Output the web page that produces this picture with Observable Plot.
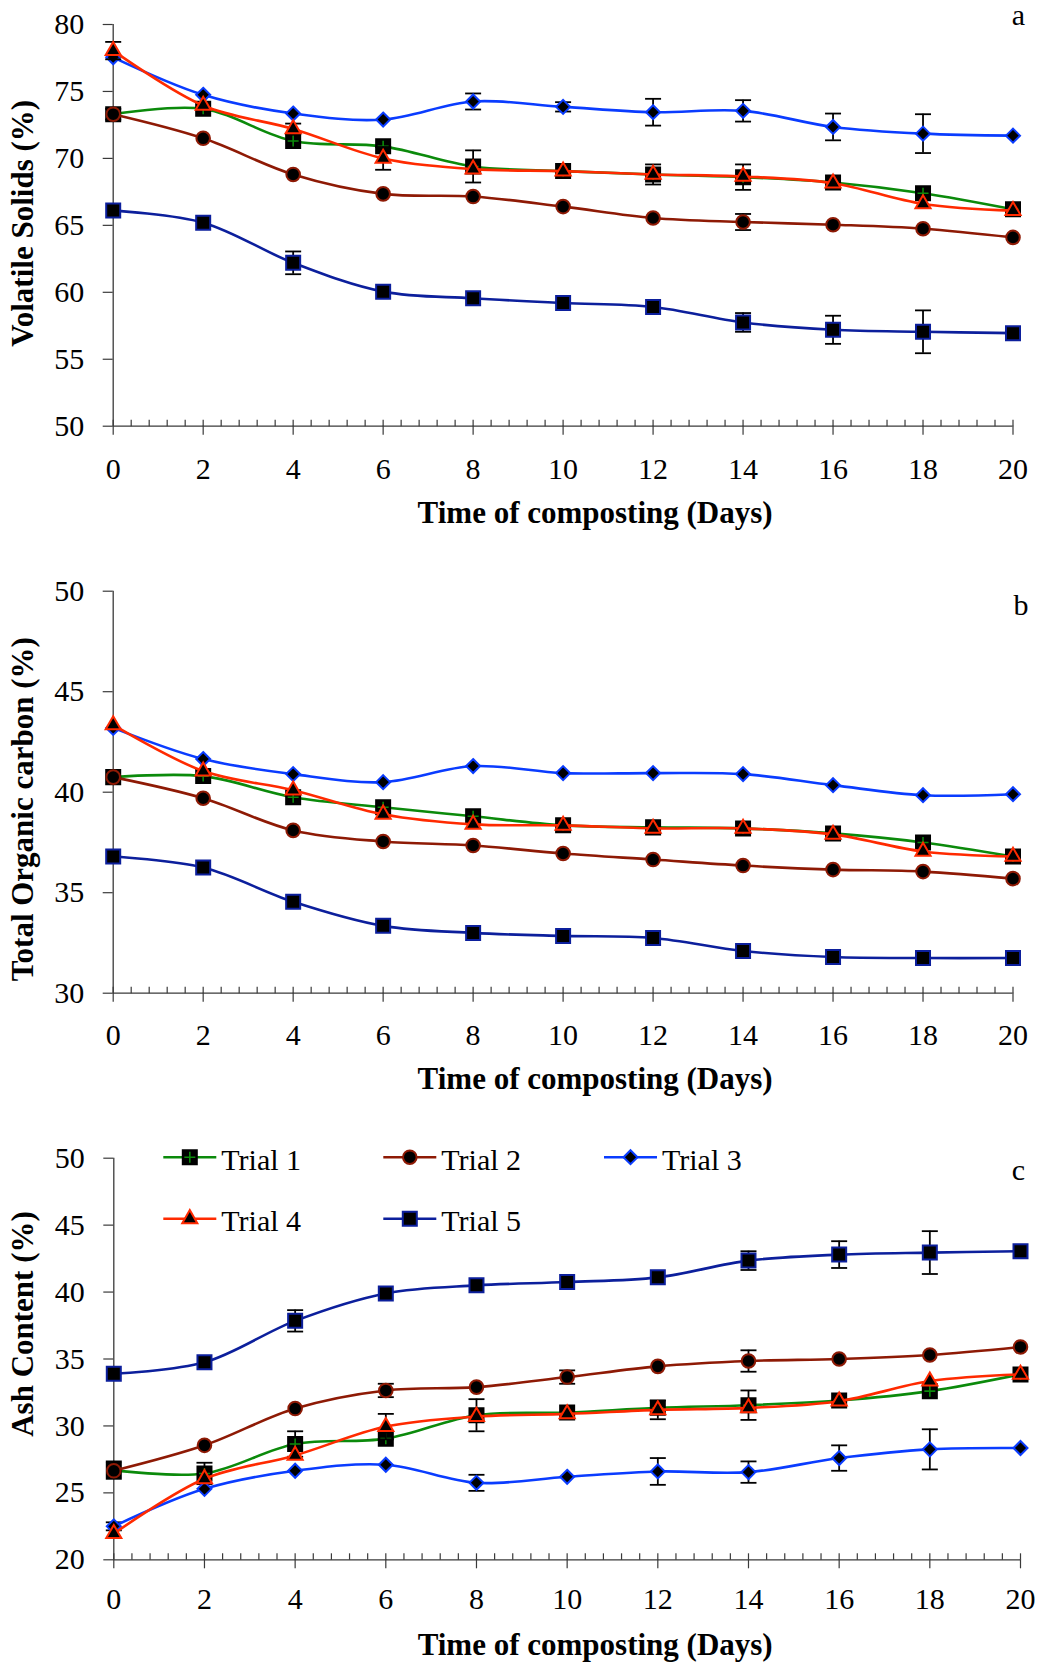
<!DOCTYPE html>
<html>
<head>
<meta charset="utf-8">
<script src="https://cdn.jsdelivr.net/npm/d3@7"></script>
<script src="https://cdn.jsdelivr.net/npm/@observablehq/plot@0.6"></script>
<style>
  body { margin: 0; background: #fff; }
  #chart { width: 1037px; }
  #chart svg { display: block; }
  #chart svg text { font-family: "Liberation Serif", "Times New Roman", serif; }
</style>
</head>
<body>
<div id="chart"></div>
<script>
// ---------- data ----------
const days = [0, 2, 4, 6, 8, 10, 12, 14, 16, 18, 20];
const trials = ["Trial 1", "Trial 2", "Trial 3", "Trial 4", "Trial 5"];
const xTicks = [0, 2, 4, 6, 8, 10, 12, 14, 16, 18, 20];
const xTitle = "Time of composting (Days)";

// (a) Volatile solids (%)
const vsTicks = [50, 55, 60, 65, 70, 75, 80];
const vsTrial1 = [73.3, 73.7, 71.3, 70.9, 69.4, 69.05, 68.8, 68.6, 68.2, 67.4, 66.2];
const vsTrial2 = [73.3, 71.5, 68.8, 67.35, 67.15, 66.4, 65.55, 65.25, 65.05, 64.75, 64.1];
const vsTrial3 = [77.55, 74.75, 73.35, 72.9, 74.25, 73.85, 73.45, 73.55, 72.35, 71.85, 71.7];
const vsTrial4 = [78.05, 73.95, 72.2, 70.0, 69.2, 69.05, 68.8, 68.65, 68.15, 66.6, 66.1];
const vsTrial5 = [66.1, 65.2, 62.2, 60.05, 59.55, 59.2, 58.9, 57.75, 57.2, 57.05, 56.95];
const vsErr1 = [0.4, null, null, null, 1.2, null, 0.75, 0.95, null, null, null];
const vsErr2 = [null, null, null, null, null, null, null, 0.6, null, null, null];
const vsErr3 = [null, null, null, null, 0.6, 0.35, 1.0, 0.8, 1.0, 1.45, null];
const vsErr4 = [0.65, null, 0.4, 0.85, null, null, null, null, null, null, null];
const vsErr5 = [null, null, 0.85, null, null, null, null, 0.7, 1.05, 1.6, null];

// (b) Total organic carbon (%)
const tocTicks = [30, 35, 40, 45, 50];
const tocTrial1 = [40.75, 40.8, 39.75, 39.25, 38.8, 38.35, 38.25, 38.2, 37.95, 37.5, 36.8];
const tocTrial2 = [40.75, 39.7, 38.1, 37.55, 37.35, 36.95, 36.65, 36.35, 36.15, 36.05, 35.7];
const tocTrial3 = [43.2, 41.65, 40.9, 40.5, 41.3, 40.95, 40.95, 40.9, 40.35, 39.85, 39.9];
const tocTrial4 = [43.35, 41.05, 40.1, 38.9, 38.4, 38.35, 38.2, 38.2, 37.9, 37.05, 36.8];
const tocTrial5 = [36.8, 36.25, 34.55, 33.35, 33.0, 32.85, 32.75, 32.1, 31.8, 31.75, 31.75];

// (c) Ash content (%)
const ashTicks = [20, 25, 30, 35, 40, 45, 50];
const ashTrial1 = [26.7, 26.45, 28.65, 29.05, 30.8, 31.0, 31.35, 31.55, 31.9, 32.6, 33.85];
const ashTrial2 = [26.65, 28.55, 31.3, 32.65, 32.9, 33.65, 34.45, 34.85, 35.0, 35.3, 35.9];
const ashTrial3 = [22.5, 25.3, 26.65, 27.1, 25.75, 26.2, 26.6, 26.55, 27.6, 28.25, 28.35];
const ashTrial4 = [21.95, 26.05, 27.8, 29.95, 30.7, 30.9, 31.2, 31.35, 31.85, 33.35, 33.85];
const ashTrial5 = [33.9, 34.75, 37.85, 39.9, 40.5, 40.75, 41.1, 42.35, 42.8, 42.95, 43.05];
const ashErr1 = [0.65, 0.8, 0.95, null, 1.2, null, null, 1.1, null, null, null];
const ashErr2 = [null, null, null, 0.5, null, 0.5, null, 0.8, null, null, null];
const ashErr3 = [0.3, null, null, null, 0.6, null, 1.0, 0.8, 0.95, 1.5, null];
const ashErr4 = [null, null, null, 0.95, null, null, 0.7, null, null, null, null];
const ashErr5 = [null, null, 0.8, null, null, null, null, 0.7, 1.0, 1.6, null];

// ---------- styles ----------
const colors = ["#0b8a0b", "#8e1a05", "#0a3cff", "#ff2a00", "#0c1f9c"];
const axisColor = "#3a3a3a";
const FONT = "'Liberation Serif', 'Times New Roman', serif";

const crossSym = {draw(c) { c.moveTo(-5.5, 0); c.lineTo(5.5, 0); c.moveTo(0, -5.5); c.lineTo(0, 5.5); }};
const capSym = {draw(c) { c.moveTo(-8, 0); c.lineTo(8, 0); }};
const tickUpSym = {draw(c) { c.moveTo(0, 0); c.lineTo(0, -6.5); }};
const legendLineSym = {draw(c) { c.moveTo(-26.5, 0); c.lineTo(26.5, 0); }};
const minorTicks = d3.range(0, 20.001, 0.4);

function markerMarks(data, i, opts) {
  const base = {fill: "black", strokeWidth: 2, ...opts};
  switch (i) {
    case 0: return [
      Plot.dot(data, {...base, symbol: "square", r: 7.9, stroke: "black"}),
      Plot.dot(data, {...opts, symbol: crossSym, stroke: colors[0], fill: "none", strokeWidth: 1.6})
    ];
    case 1: return [Plot.dot(data, {...base, symbol: "circle", r: 6.8, stroke: colors[1]})];
    case 2: return [Plot.dot(data, {...base, symbol: "diamond2", r: 6.3, stroke: colors[2]})];
    case 3: return [Plot.dot(data, {...base, symbol: "triangle", r: 5.6, stroke: colors[3]})];
    default: return [Plot.dot(data, {...base, symbol: "square", r: 7.9, stroke: colors[4]})];
  }
}

function panel(cfg) {
  const rows = [];
  cfg.series.forEach((vals, i) => vals.forEach((v, j) => rows.push({
    trial: i, x: days[j], y: v, e: cfg.errs ? cfg.errs[i][j] : null
  })));
  const marks = [
    Plot.ruleY([cfg.yDomain[0]], {stroke: axisColor, strokeWidth: 1.3}),
    Plot.ruleX([0], {stroke: axisColor, strokeWidth: 1.3}),
    Plot.dot(minorTicks, {x: d => d, frameAnchor: "bottom", symbol: tickUpSym, stroke: axisColor, fill: "none", strokeWidth: 1.2}),
    Plot.axisX({ticks: xTicks, tickSize: 9, tickPadding: cfg.xTickPad, tickFormat: d => String(d), label: null,
      fontSize: 30, fontFamily: FONT, stroke: axisColor, strokeWidth: 1.2}),
    Plot.axisY({ticks: cfg.yTicks, tickSize: 10, tickPadding: 19, tickFormat: d => String(d), label: null,
      fontSize: 30, fontFamily: FONT, stroke: axisColor, strokeWidth: 1.2})
  ];
  for (let i = 0; i < 5; i++) {
    const d = rows.filter(r => r.trial === i);
    const ed = d.filter(r => r.e != null);
    marks.push(Plot.ruleX(ed, {x: "x", y1: r => r.y - r.e, y2: r => r.y + r.e, stroke: "black", strokeWidth: 1.8}));
    marks.push(Plot.dot(ed, {x: "x", y: r => r.y + r.e, symbol: capSym, stroke: "black", fill: "none", strokeWidth: 1.8}));
    marks.push(Plot.dot(ed, {x: "x", y: r => r.y - r.e, symbol: capSym, stroke: "black", fill: "none", strokeWidth: 1.8}));
    marks.push(Plot.line(d, {x: "x", y: "y", stroke: colors[i], strokeWidth: 2.6, curve: "catmull-rom"}));
    marks.push(...markerMarks(d, i, {x: "x", y: "y"}));
  }
  marks.push(Plot.text([cfg.yTitle], {frameAnchor: "left", rotate: -90, dx: 23 - cfg.ml, dy: cfg.yTitleDy,
    fontSize: 31, fontWeight: "bold", fontFamily: FONT, textAnchor: "middle", lineAnchor: "middle"}));
  marks.push(Plot.text([xTitle], {frameAnchor: "bottom", dx: cfg.xTitleDx, dy: cfg.xTitleDy,
    fontSize: 31, fontWeight: "bold", fontFamily: FONT, textAnchor: "middle", lineAnchor: "middle"}));
  marks.push(Plot.text([cfg.letter], {frameAnchor: "top-right", dx: cfg.letterDx, dy: cfg.letterDy,
    fontSize: 30, fontFamily: FONT, textAnchor: "middle", lineAnchor: "middle"}));
  if (cfg.legend) {
    cfg.legend.forEach((slot, i) => {
      const o = {frameAnchor: "top-left", dx: slot.dx, dy: slot.dy};
      marks.push(Plot.dot([0], {...o, symbol: legendLineSym, stroke: colors[i], fill: "none", strokeWidth: 2.6}));
      marks.push(...markerMarks([0], i, o));
      marks.push(Plot.text([trials[i]], {frameAnchor: "top-left", dx: slot.dx + 31.5, dy: slot.dy + 3,
        fontSize: 30, fontFamily: FONT, textAnchor: "start", lineAnchor: "middle"}));
    });
  }
  return Plot.plot({
    width: 1037, height: cfg.height,
    marginTop: cfg.mt, marginBottom: cfg.mb, marginLeft: cfg.ml, marginRight: cfg.mr,
    x: {domain: [0, 20]},
    y: {domain: cfg.yDomain},
    style: {fontFamily: FONT, fontSize: "30px", color: "black", background: "white", overflow: "visible"},
    marks
  });
}

const chart = document.getElementById("chart");
chart.append(panel({
  height: 545, mt: 24, mb: 119.3, ml: 112.7, mr: 24.5,
  yDomain: [50, 80], yTicks: vsTicks, xTickPad: 22,
  series: [vsTrial1, vsTrial2, vsTrial3, vsTrial4, vsTrial5],
  errs: [vsErr1, vsErr2, vsErr3, vsErr4, vsErr5],
  yTitle: "Volatile Solids (%)", yTitleDy: -2,
  xTitleDx: 32, xTitleDy: 87,
  letter: "a", letterDx: 5.5, letterDy: -8.7
}));
chart.append(panel({
  height: 560, mt: 45.7, mb: 112.3, ml: 112.7, mr: 24.5,
  yDomain: [30, 50], yTicks: tocTicks, xTickPad: 21,
  series: [tocTrial1, tocTrial2, tocTrial3, tocTrial4, tocTrial5],
  errs: null,
  yTitle: "Total Organic carbon (%)", yTitleDy: 17,
  xTitleDx: 32, xTitleDy: 86,
  letter: "b", letterDx: 8, letterDy: 14
}));
chart.append(panel({
  height: 560, mt: 52.7, mb: 105.7, ml: 113.3, mr: 17,
  yDomain: [20, 50], yTicks: ashTicks, xTickPad: 19,
  series: [ashTrial1, ashTrial2, ashTrial3, ashTrial4, ashTrial5],
  errs: [ashErr1, ashErr2, ashErr3, ashErr4, ashErr5],
  yTitle: "Ash Content (%)", yTitleDy: -35,
  xTitleDx: 28, xTitleDy: 85.5,
  letter: "c", letterDx: -2, letterDy: 12.6,
  legend: [
    {dx: 76, dy: -1}, {dx: 296, dy: -1}, {dx: 516.7, dy: -1},
    {dx: 76, dy: 60.6}, {dx: 296, dy: 60.6}
  ]
}));
</script>
</body>
</html>
